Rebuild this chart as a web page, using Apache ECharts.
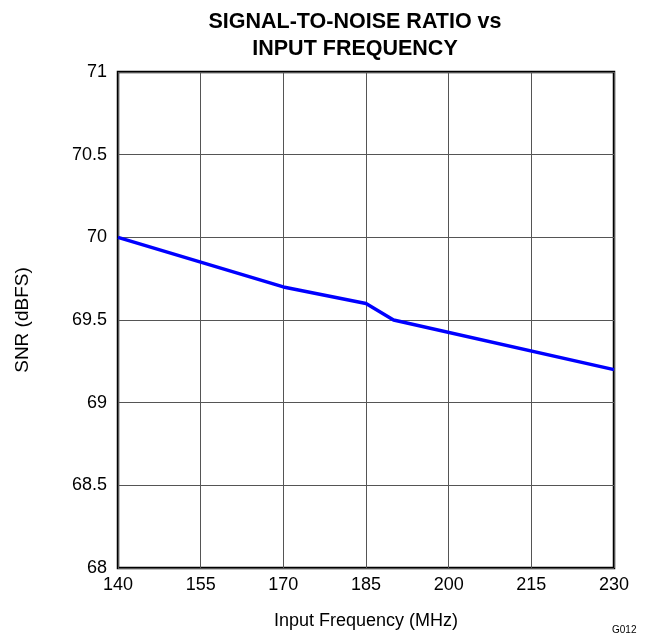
<!DOCTYPE html>
<html><head><meta charset="utf-8">
<script src="https://cdn.jsdelivr.net/npm/echarts@6/dist/echarts.min.js"></script>
<style>html,body{margin:0;padding:0;background:#fff}#c{width:647px;height:635px}</style>
</head><body><div id="c"></div>
<script>
const freqs = [140, 170, 185, 190, 230];
const snr = [70, 69.7, 69.6, 69.5, 69.2];
const xTicks = [140, 155, 170, 185, 200, 215, 230];
const yTicks = [68, 68.5, 69, 69.5, 70, 70.5, 71];
const titleLines = ['SIGNAL-TO-NOISE RATIO vs', 'INPUT FREQUENCY'];
const xName = 'Input Frequency (MHz)';
const yName = 'SNR (dBFS)';
const tag = 'G012';

const font = 'Liberation Sans, Arial, sans-serif';
const chart = echarts.init(document.getElementById('c'));
chart.setOption({
  animation: false,
  title: {
    text: titleLines.join('\n'), left: 350, top: 3, textAlign: 'center',
    textStyle: { fontFamily: font, fontSize: 21.5, fontWeight: 'bold', color: '#000', lineHeight: 27.5 }
  },
  graphic: [{
    type: 'text', left: 612, top: 625,
    style: { text: tag, fontFamily: font, fontSize: 10, fill: '#000' }
  }],
  grid: { left: 118, right: 33, top: 72, bottom: 67, show: true, borderColor: '#000', borderWidth: 2.5, backgroundColor: 'transparent' },
  xAxis: {
    type: 'value', min: 140, max: 230, interval: 15,
    name: xName, nameLocation: 'middle', nameGap: 44,
    nameTextStyle: { fontFamily: font, fontSize: 18, color: '#000' },
    axisLine: { show: false }, axisTick: { show: false },
    axisLabel: { fontFamily: font, fontSize: 18, color: '#000', margin: 8 },
    splitLine: { show: true, lineStyle: { color: '#555', width: 1 } }
  },
  yAxis: {
    type: 'value', min: 68, max: 71, interval: 0.5,
    name: yName, nameLocation: 'middle', nameGap: 86,
    nameTextStyle: { fontFamily: font, fontSize: 19, color: '#000' },
    axisLine: { show: false }, axisTick: { show: false },
    axisLabel: { fontFamily: font, fontSize: 18, color: '#000', margin: 11,
      formatter: v => String(v) },
    splitLine: { show: true, lineStyle: { color: '#555', width: 1 } }
  },
  series: [{
    type: 'line', data: freqs.map((f, i) => [f, snr[i]]),
    showSymbol: false, lineStyle: { color: '#0000ff', width: 3.5 }, clip: false
  }]
});
</script></body></html>
